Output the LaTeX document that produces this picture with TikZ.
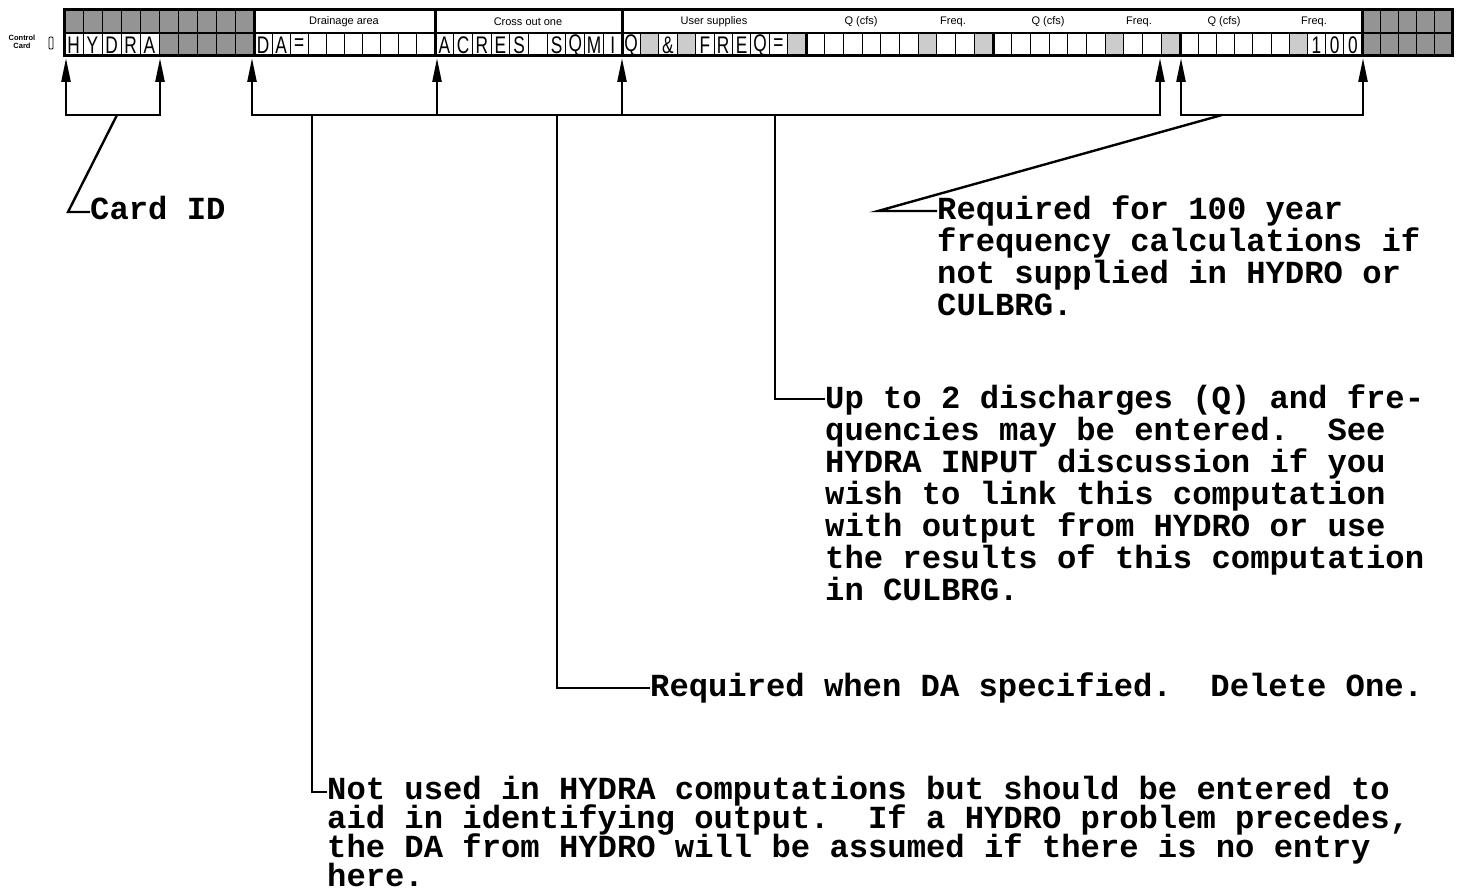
\documentclass[tikz,border=0pt]{standalone}
\usepackage{fontspec}
\setmainfont{Liberation Sans}
\newfontfamily\tmono{Liberation Mono}
\newfontfamily\tcard[FakeStretch=0.72]{Liberation Sans}
\usetikzlibrary{arrows.meta}
\newcommand\notefont{\tmono\bfseries\frenchspacing\fontsize{32.2}{32}\selectfont}
\begin{document}
\begin{tikzpicture}[x=1pt,y=-1pt,
  note/.style={font=\notefont,inner sep=0pt,anchor=base west,align=left},
  conn/.style={line width=2.4pt,line join=miter},
  tip/.style={-{Triangle[length=24pt,width=9pt]}},
  twotips/.style={{Triangle[length=24pt,width=9pt]}-{Triangle[length=24pt,width=9pt]}},
  cardletter/.style={font=\tcard\fontsize{24}{24}\selectfont,inner sep=0pt},
  hdr/.style={font=\fontsize{11}{11}\selectfont,inner sep=0pt},
  darkcell/.style={fill=black!42},
  lightcell/.style={fill=black!20},
  thinl/.style={line width=1pt},
  thickl/.style={line width=3pt}]

\useasboundingbox (0,0) rectangle (1458,890);

% ---- card shading
\fill[darkcell] (64,10) rectangle (254,33);
\fill[darkcell] (159,33) rectangle (254,56);
\fill[darkcell] (1362,10) rectangle (1452,56);
\foreach \a/\w/\i in {622/18.4/1,622/18.4/3,622/18.4/9,806/18.7/6,806/18.7/9,993/18.7/6,993/18.7/9,1180/18.2/6}
  \fill[lightcell] ({\a+\i*\w},33) rectangle ({\a+(\i+1)*\w},56);

% ---- thin cell dividers (bottom row)
\foreach \a/\b/\n in {64/254/10,254/435/10,435/622/10,622/806/10,806/993/10,993/1180/10,1180/1362/10,1362/1452/5}{
  \pgfmathsetmacro\w{(\b-\a)/\n}
  \pgfmathtruncatemacro\m{\n-1}
  \foreach \i in {1,...,\m}
    \draw[thinl] ({\a+\i*\w},33) -- ({\a+\i*\w},56);
}
% top-row dividers of the shaded groups
\foreach \i in {1,...,9} \draw[thinl] ({64+\i*19},10) -- ({64+\i*19},33);
\foreach \i in {1,...,4} \draw[thinl] ({1362+\i*18},10) -- ({1362+\i*18},33);

% ---- thick frame
\draw[thickl] (64,10) rectangle (1452,56);
\draw[line width=2pt] (64,33) -- (1452,33);
\foreach \x in {254,435,622,1362} \draw[thickl] (\x,10) -- (\x,56);
\foreach \x in {806,993,1180} \draw[thickl] (\x,33) -- (\x,56);

% ---- letters in cells
\foreach \a/\w/\i/\t in {64/19/0/H,64/19/1/Y,64/19/2/D,64/19/3/R,64/19/4/A,
  254/18.1/0/D,254/18.1/1/A,254/18.1/2/=,
  435/18.7/0/A,435/18.7/1/C,435/18.7/2/R,435/18.7/3/E,435/18.7/4/S,
  435/18.7/6/S,435/18.7/7/Q,435/18.7/8/M,435/18.7/9/I,
  622/18.4/0/Q,622/18.4/2/{\&},622/18.4/4/F,622/18.4/5/R,622/18.4/6/E,622/18.4/7/Q,622/18.4/8/=,
  1180/18.2/7/1,1180/18.2/8/0,1180/18.2/9/0}
  \node[cardletter] (ch\a-\i) at ({\a+(\i+0.5)*\w},45) {\t};

% ---- header labels
\node[hdr] (h1) at (344,21.5) {Drainage area};
\node[hdr] (h2) at (528,21.5) {Cross out one};
\node[hdr] (h3) at (714,21.5) {User supplies};
\node[hdr] (h4) at (861,21.5) {Q (cfs)};
\node[hdr] (h5) at (953,21.5) {Freq.};
\node[hdr] (h6) at (1048,21.5) {Q (cfs)};
\node[hdr] (h7) at (1139,21.5) {Freq.};
\node[hdr] (h8) at (1224,21.5) {Q (cfs)};
\node[hdr] (h9) at (1314,21.5) {Freq.};

\node[font=\bfseries\fontsize{7.5}{8}\selectfont,align=center,inner sep=0pt] (cc) at (22,42) {Control\\Card};
\node[draw,line width=0.8pt,rounded corners=1pt,minimum width=4pt,minimum height=12pt,inner sep=0pt] (ccbox) at (51,43) {};

% ---- arrow tips and bracket corners
\coordinate (t1) at (66,58);   \coordinate (c1) at (66,115);
\coordinate (t2) at (160,58);  \coordinate (c2) at (160,115);
\coordinate (t3) at (252,58);  \coordinate (c3) at (252,115);
\coordinate (t4) at (437,58);  \coordinate (c4) at (437,115);
\coordinate (t5) at (622,58);  \coordinate (c5) at (622,115);
\coordinate (t6) at (1160,58); \coordinate (c6) at (1160,115);
\coordinate (t7) at (1181,58); \coordinate (c7) at (1181,115);
\coordinate (t8) at (1363,58); \coordinate (c8) at (1363,115);

\draw[conn,twotips] (t1) -- (c1) -- (c2) -- (t2);
\draw[conn,twotips] (t3) -- (c3) -- (c6) -- (t6);
\draw[conn,tip] (c4) -- (t4);
\draw[conn,tip] (c5) -- (t5);
\draw[conn,twotips] (t7) -- (c7) -- (c8) -- (t8);

% ---- notes (base anchor = baseline of the last line)
\node[note] (cardid) at (90,220) {Card ID};
\node[note] (req100) at (937,316) {Required for 100 year\\frequency calculations if\\not supplied in HYDRO or\\CULBRG.};
\node[note] (upto) at (825,600) {Up to 2 discharges (Q) and fre-\\quencies may be entered.~ See\\HYDRA INPUT discussion if you\\wish to link this computation\\with output from HYDRO or use\\the results of this computation\\in CULBRG.};
\node[note] (reqda) at (650,696) {Required when DA specified.~ Delete One.};
\node[note] (notused) at (327,886) {Not used in HYDRA computations but should be entered to\\[-3pt]aid in identifying output.~ If a HYDRO problem precedes,\\[-3pt]the DA from HYDRO will be assumed if there is no entry\\[-3pt]here.};

% ---- leader lines
\coordinate (k1) at (117,115);  \coordinate (k1b) at (68,212);
\coordinate (k2) at (312,115);  \coordinate (k2b) at (312,792);
\coordinate (k3) at (557,115);  \coordinate (k3b) at (557,688);
\coordinate (k4) at (775,115);  \coordinate (k4b) at (775,399);
\coordinate (k5) at (1222,115); \coordinate (k5b) at (878,211);

\draw[conn] (k1) -- (k1b) -- (cardid.west |- k1b);
\draw[conn] (k2) -- (k2b) -- (notused.west |- k2b);
\draw[conn] (k3) -- (k3b) -- (reqda.west |- k3b);
\draw[conn] (k4) -- (k4b) -- (upto.west |- k4b);
\draw[conn] (k5) -- (k5b) -- (req100.west |- k5b);
\end{tikzpicture}
\end{document}
